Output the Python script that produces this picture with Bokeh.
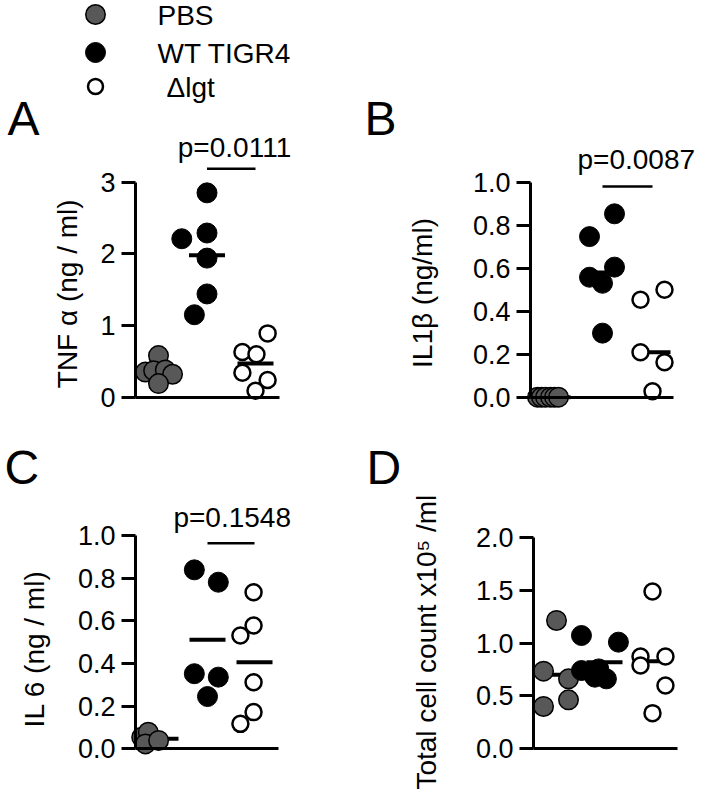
import math
from bokeh.plotting import figure
from bokeh.layouts import column, row
from bokeh.models import Range1d, FixedTicker, NumeralTickFormatter
from bokeh.embed import file_html
from bokeh.resources import INLINE
from bokeh.core.properties import value

FONT = "Liberation Sans"
MID = 0.3465  # distance (in em) from the alphabetic baseline up to the em-box middle

# ---------------- data ----------------
groups = ["PBS", "WT TIGR4", "\u0394lgt"]

# Panel A: TNF alpha (ng / ml)
tnf_pbs = [0.58, 0.35, 0.37, 0.38, 0.32, 0.19]
tnf_pbs_jit = [0.0, -0.27, -0.10, 0.14, 0.29, 0.0]
tnf_wt = [2.85, 2.21, 2.29, 1.94, 1.44, 1.15]
tnf_wt_jit = [0.0, -0.52, 0.0, 0.0, 0.0, -0.26]
tnf_lgt = [0.89, 0.63, 0.60, 0.34, 0.24, 0.09]
tnf_lgt_jit = [0.25, -0.27, 0.02, -0.27, 0.25, 0.0]
tnf_center = [0.36, 1.98, 0.47]
tnf_p = "p=0.0111"
tnf_ticks = [0, 1, 2, 3]

# Panel B: IL1 beta (ng/ml)
il1_pbs = [0.0, 0.0, 0.0, 0.0, 0.0, 0.0]
il1_pbs_jit = [-0.30, -0.22, -0.14, -0.04, 0.04, 0.12]
il1_wt = [0.853, 0.747, 0.605, 0.558, 0.53, 0.298]
il1_wt_jit = [0.24, -0.26, 0.24, -0.26, 0.0, 0.0]
il1_lgt = [0.50, 0.453, 0.209, 0.163, 0.028]
il1_lgt_jit = [0.24, -0.24, -0.24, 0.24, 0.0]
il1_center = [0.0, 0.58, 0.209]
il1_p = "p=0.0087"
il1_ticks = [0.0, 0.2, 0.4, 0.6, 0.8, 1.0]

# Panel C: IL 6 (ng / ml)
il6_pbs = [0.054, 0.078, 0.023, 0.039]
il6_pbs_jit = [-0.40, -0.26, -0.32, -0.04]
il6_wt = [0.839, 0.781, 0.352, 0.336, 0.245]
il6_wt_jit = [-0.28, 0.23, -0.28, 0.23, 0.0]
il6_lgt = [0.734, 0.578, 0.531, 0.312, 0.172, 0.117]
il6_lgt_jit = [-0.02, -0.02, -0.30, -0.02, -0.02, -0.30]
il6_center = [0.047, 0.511, 0.406]
il6_p = "p=0.1548"
il6_ticks = [0.0, 0.2, 0.4, 0.6, 0.8, 1.0]

# Panel D: total cell count x10^5 / ml
cell_pbs = [1.213, 0.734, 0.661, 0.40, 0.463]
cell_pbs_jit = [0.0, -0.27, 0.25, -0.27, 0.25]
cell_wt = [1.071, 1.008, 0.74, 0.755, 0.677, 0.661]
cell_wt_jit = [-0.48, 0.29, -0.48, -0.12, -0.20, 0.04]
cell_lgt = [1.487, 0.872, 0.787, 0.872, 0.598, 0.337]
cell_lgt_jit = [0.0, -0.25, -0.25, 0.27, 0.27, 0.0]
cell_center = [0.70, 0.819, 0.828]
cell_ticks = [0.0, 0.5, 1.0, 1.5, 2.0]

# ---------------- styles / layout (page pixels) ----------------
styles = [
    dict(fill_color="#585858", line_color="black", line_width=1.5, size=19.5),
    dict(fill_color="black", line_color="black", line_width=1, size=20),
    dict(fill_color="white", line_color="black", line_width=2.5, size=16),
]
legend_styles = [
    dict(fill_color="#585858", line_color="black", line_width=1.5, size=19.5),
    dict(fill_color="black", line_color="black", line_width=1, size=20),
    dict(fill_color="white", line_color="black", line_width=2.5, size=15),
]

LABEL_SIZE = 28
LETTER_SIZE = 48
ROW_SPLIT = 425

panels = [
    dict(letter="A", ylabel="TNF \u03b1 (ng / ml)",
         series=[(tnf_pbs, tnf_pbs_jit), (tnf_wt, tnf_wt_jit), (tnf_lgt, tnf_lgt_jit)],
         center=tnf_center, ticks=tnf_ticks, fmt="0", p=tnf_p, bar_px=168.3, p_text_px=(234, 157),
         fig=(0, 0, 351, ROW_SPLIT), axis_x=135, cat1=158, sp=48.5, zero=396.7, unit=71.7, axis_end=279,
         label_px=(76.7, 293.3), letter_px=(7, 135), legend=True),
    dict(letter="B", ylabel="IL1\u03b2 (ng/ml)",
         series=[(il1_pbs, il1_pbs_jit), (il1_wt, il1_wt_jit), (il1_lgt, il1_lgt_jit)],
         center=il1_center, ticks=il1_ticks, fmt="0.0", p=il1_p, bar_px=186, p_text_px=(635.8, 168.3),
         fig=(351, 0, 700, ROW_SPLIT), axis_x=530, cat1=552, sp=50, zero=396.7, unit=215, axis_end=673,
         label_px=(431.7, 292.5), letter_px=(364, 135), legend=False),
    dict(letter="C", ylabel="IL 6 (ng / ml)",
         series=[(il6_pbs, il6_pbs_jit), (il6_wt, il6_wt_jit), (il6_lgt, il6_lgt_jit)],
         center=il6_center, ticks=il6_ticks, fmt="0.0", p=il6_p, bar_px=542.7, p_text_px=(231.7, 526.7),
         fig=(0, ROW_SPLIT, 351, 800), axis_x=135, cat1=160, sp=47, zero=748.3, unit=213.3, axis_end=278,
         label_px=(43.3, 648.3), letter_px=(4, 484), legend=False),
    dict(letter="D", ylabel="Total cell count x10\u2075 /ml",
         series=[(cell_pbs, cell_pbs_jit), (cell_wt, cell_wt_jit), (cell_lgt, cell_lgt_jit)],
         center=cell_center, ticks=cell_ticks, fmt="0.0", p=None, bar_px=None, p_text_px=None,
         fig=(351, ROW_SPLIT, 700, 800), axis_x=533, cat1=556, sp=48, zero=748.3, unit=105.8, axis_end=677,
         label_px=(436, 641.7), letter_px=(366, 484), legend=False),
]

legend_marker_px = (95, [14, 52, 86])
legend_text_px = ([157, 157, 166], [25, 63, 97])


def build(spec):
    fx0, fy0, fx1, fy1 = spec["fig"]
    cat1, sp = spec["cat1"], spec["sp"]
    zero, unit = spec["zero"], spec["unit"]

    def X(px):
        return 1 + (px - cat1) / sp

    def Y(py):
        return (zero - py) / unit

    def txt(px, py_baseline, s, size, align="left"):
        # horizontal text whose alphabetic baseline lies at page y = py_baseline
        p.text(x=[X(px)], y=[Y(py_baseline - MID * size)], text=[s], text_align=align,
               text_baseline="middle", text_font=value(FONT), text_font_size=f"{size}px",
               text_color="black")

    p = figure(width=fx1 - fx0, height=fy1 - fy0,
               x_range=Range1d(X(fx0), X(fx1)), y_range=Range1d(Y(fy1), Y(fy0)),
               output_backend="svg", toolbar_location=None, min_border=0)
    p.grid.visible = False
    p.outline_line_color = None

    x_axis_pos = X(spec["axis_x"])
    ticks = spec["ticks"]

    xa = p.xaxis[0]
    xa.fixed_location = 0
    xa.bounds = (x_axis_pos, X(spec["axis_end"]))
    xa.ticker = FixedTicker(ticks=[])
    xa.major_tick_line_color = None
    xa.minor_tick_line_color = None
    xa.major_label_text_font_size = "0px"
    xa.axis_line_width = 3
    xa.axis_line_color = "black"

    ya = p.yaxis[0]
    ya.fixed_location = x_axis_pos
    ya.bounds = (0, max(ticks))
    ya.ticker = FixedTicker(ticks=ticks)
    ya.formatter = NumeralTickFormatter(format=spec["fmt"])
    ya.axis_line_width = 3
    ya.axis_line_color = "black"
    ya.major_tick_line_width = 3
    ya.major_tick_line_color = "black"
    ya.major_tick_out = 14
    ya.major_tick_in = 0
    ya.minor_tick_line_color = None
    ya.major_label_text_font = FONT
    ya.major_label_text_font_size = "27px"
    ya.major_label_text_color = "black"
    ya.major_label_standoff = 6

    # axis title (rotated, reading bottom to top); baseline at page x = lx
    lx, ly = spec["label_px"]
    p.text(x=[X(lx - MID * LABEL_SIZE)], y=[Y(ly)], text=[spec["ylabel"]], angle=math.pi / 2,
           text_align="center", text_baseline="middle",
           text_font=value(FONT), text_font_size=f"{LABEL_SIZE}px", text_color="black")

    hw = 18.0 / sp
    cats = [1, 2, 3]
    p.segment(x0=[c - hw for c in cats], y0=spec["center"], x1=[c + hw for c in cats], y1=spec["center"],
              line_color="black", line_width=4)
    for c, (vals, jit), st in zip(cats, spec["series"], styles):
        p.scatter(x=[c + j for j in jit], y=vals, marker="circle", **st)

    if spec["p"] is not None:
        by = Y(spec["bar_px"])
        p.segment(x0=[2], y0=[by], x1=[3], y1=[by], line_color="black", line_width=2.5)
        tx, ty = spec["p_text_px"]
        txt(tx, ty, spec["p"], 28, align="center")

    ex, ey = spec["letter_px"]
    txt(ex, ey, spec["letter"], LETTER_SIZE)

    if spec["legend"]:
        mx, mys = legend_marker_px
        txs, tys = legend_text_px
        for i, g in enumerate(groups):
            p.scatter(x=[X(mx)], y=[Y(mys[i])], marker="circle", **legend_styles[i])
            txt(txs[i], tys[i], g, 28)
    return p


figs = [build(s) for s in panels]
layout = column(row(figs[0], figs[1]), row(figs[2], figs[3]))

open("out.html", "w").write(file_html(layout, INLINE))
